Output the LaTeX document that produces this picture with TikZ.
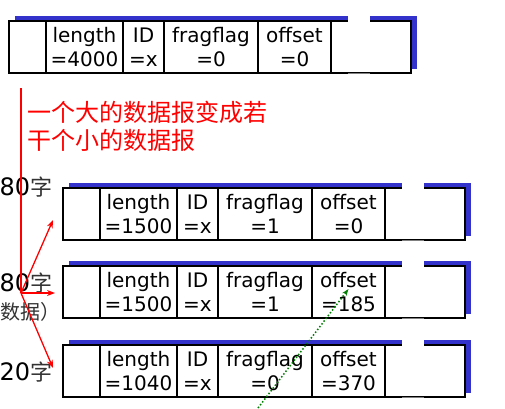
\documentclass[tikz,border=0pt]{standalone}
\usepackage{fontspec}
\setmainfont{DejaVu Sans}
\newfontfamily\cjk{Noto Sans CJK SC}
\usetikzlibrary{arrows.meta}
\definecolor{FragBlue}{HTML}{3333CC}
\definecolor{FragRed}{HTML}{FF0000}
\definecolor{FragGreen}{HTML}{008000}
\definecolor{FragGrey}{HTML}{333333}

\begin{document}
\begin{tikzpicture}[x=1pt,y=-1pt,line width=1.5pt,
  field/.style={align=center,inner sep=0pt,font=\fontsize{20}{24}\selectfont},
  side/.style={anchor=east,inner sep=0pt},
  split/.style={draw=FragRed,line width=1.3pt,-{Stealth[length=8pt,width=6pt]}}]
 \useasboundingbox (0,0) rectangle (505,408);
 \foreach \n/\x/\y/\len/\flag/\off in {big/9/21/4000/0/0,fragA/63/188/1500/1/0,fragB/63/266/1500/1/185,fragC/63/345/1040/0/370}{
  \fill[FragBlue] ({\x+6},{\y-5}) rectangle ({\x+408},{\y+48});
  \filldraw[fill=white] (\x,\y) rectangle ({\x+402},{\y+52});
  \foreach \c in {37,114,155,249,322} \draw ({\x+\c},\y) -- ({\x+\c},{\y+52});
  \fill[white] ({\x+339},{\y-6}) rectangle ({\x+361},{\y+51});
  \draw[gray,line width=1pt] ({\x+339},{\y+52.5}) -- ({\x+361},{\y+52.5});
  \node[field] (\n-len) at ({\x+75.5},{\y+26}) {length\\=\len};
  \node[field] (\n-id) at ({\x+134.5},{\y+26}) {ID\\=x};
  \node[field] (\n-flag) at ({\x+202},{\y+26}) {fragflag\\=\flag};
  \node[field] (\n-off) at ({\x+285.5},{\y+26}) {offset\\=\off};
 }
 \node[anchor=west,inner sep=0pt,align=left,text=FragRed,font=\cjk\fontsize{24}{28}\selectfont] (note) at (27,126) {一个大的数据报变成若\\干个小的数据报};
 \node[side] (sizeA) at (53,187) {\fontsize{24}{24}\selectfont 80\textcolor{FragGrey}{\cjk\fontsize{22}{22}\selectfont 字}};
 \node[side] (sizeB) at (53,283) {\fontsize{24}{24}\selectfont 80\textcolor{FragGrey}{\cjk\fontsize{22}{22}\selectfont 字}};
 \node[anchor=west,inner sep=0pt,text=FragGrey,font=\cjk\fontsize{20}{20}\selectfont] (dataB) at (0,312) {数据）};
 \node[side] (sizeC) at (53,372) {\fontsize{24}{24}\selectfont 20\textcolor{FragGrey}{\cjk\fontsize{22}{22}\selectfont 字}};
 \coordinate (start) at (21,88);
 \coordinate (fork) at (21,293);
 \coordinate (tipA) at (53,220);
 \coordinate (tipB) at (55,293);
 \coordinate (tipC) at (53,368);
 \coordinate (gtail) at (258,408);
 \draw[FragRed,line width=1.3pt] (start) -- (fork);
 \draw[split] (fork) -- (tipA);
 \draw[split] (fork) -- (tipB);
 \draw[split] (fork) -- (tipC);
 \draw[FragGreen,dotted,line width=1.5pt,-{Stealth[length=7pt,width=5pt]}] (gtail) -- ([yshift=3pt]fragB-off.center);
\end{tikzpicture}
\end{document}
